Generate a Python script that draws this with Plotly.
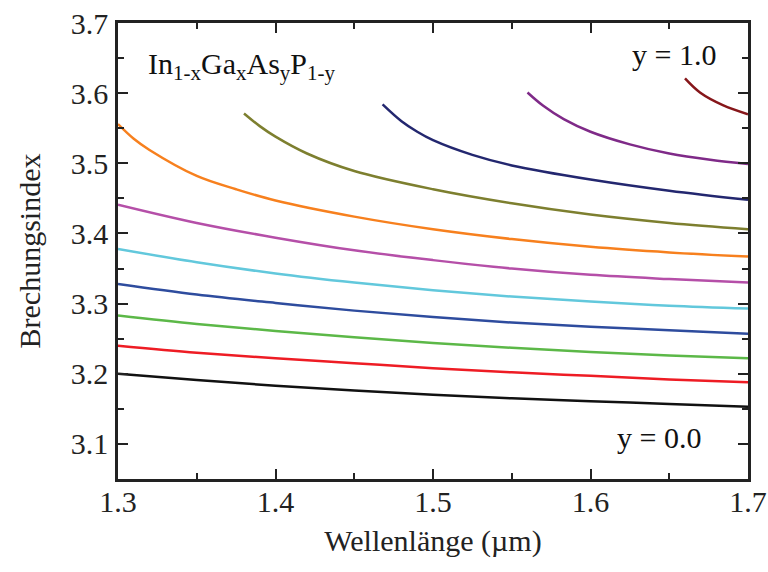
import plotly.graph_objects as go

# Wavelength grid (µm)
x_full = [1.30, 1.35, 1.40, 1.45, 1.50, 1.55, 1.60, 1.65, 1.70]

# Refractive index curves, y = 0.0 ... 0.5 (full range)
n_y00 = [3.200, 3.191, 3.183, 3.176, 3.170, 3.165, 3.161, 3.157, 3.153]
n_y01 = [3.240, 3.230, 3.222, 3.215, 3.208, 3.202, 3.197, 3.192, 3.188]
n_y02 = [3.283, 3.271, 3.261, 3.252, 3.244, 3.237, 3.231, 3.226, 3.222]
n_y03 = [3.328, 3.313, 3.301, 3.290, 3.281, 3.273, 3.267, 3.262, 3.257]
n_y04 = [3.378, 3.359, 3.343, 3.330, 3.319, 3.310, 3.303, 3.297, 3.293]
n_y05 = [3.441, 3.415, 3.394, 3.376, 3.362, 3.350, 3.341, 3.335, 3.330]

x_y06 = [1.30, 1.31, 1.32, 1.35, 1.375, 1.40, 1.45, 1.50, 1.55, 1.60, 1.65, 1.70]
n_y06 = [3.556, 3.535, 3.519, 3.482, 3.463, 3.447, 3.424, 3.406, 3.392, 3.381, 3.373, 3.367]

x_y07 = [1.38, 1.39, 1.40, 1.42, 1.45, 1.50, 1.55, 1.60, 1.65, 1.70]
n_y07 = [3.571, 3.553, 3.538, 3.514, 3.489, 3.463, 3.443, 3.427, 3.415, 3.406]

x_y08 = [1.468, 1.48, 1.49, 1.50, 1.525, 1.55, 1.60, 1.65, 1.70]
n_y08 = [3.584, 3.560, 3.545, 3.533, 3.512, 3.497, 3.477, 3.461, 3.448]

x_y09 = [1.56, 1.57, 1.583, 1.60, 1.625, 1.65, 1.676, 1.70]
n_y09 = [3.601, 3.582, 3.563, 3.545, 3.527, 3.514, 3.505, 3.499]

x_y10 = [1.66, 1.6695, 1.684, 1.70]
n_y10 = [3.621, 3.601, 3.583, 3.570]

series = [
    ("y=0.0", x_full, n_y00, "#111111"),
    ("y=0.1", x_full, n_y01, "#ee1c24"),
    ("y=0.2", x_full, n_y02, "#5cb848"),
    ("y=0.3", x_full, n_y03, "#2e4c9e"),
    ("y=0.4", x_full, n_y04, "#62c8dc"),
    ("y=0.5", x_full, n_y05, "#b54fa8"),
    ("y=0.6", x_y06, n_y06, "#f7801e"),
    ("y=0.7", x_y07, n_y07, "#7d7f2f"),
    ("y=0.8", x_y08, n_y08, "#23276f"),
    ("y=0.9", x_y09, n_y09, "#7f2a88"),
    ("y=1.0", x_y10, n_y10, "#86161a"),
]

FONT = "'Liberation Serif', 'Times New Roman', serif"

fig = go.Figure()
for name, xs, ys, col in series:
    fig.add_trace(go.Scatter(x=xs, y=ys, mode="lines", name=name,
                             line=dict(color=col, width=2.5, shape="spline", smoothing=1.0)))

axis_common = dict(
    showgrid=False, zeroline=False, showline=True, linecolor="#222222", linewidth=2.5,
    mirror="allticks", ticks="inside", ticklen=10, tickwidth=2, tickcolor="#222222",
    tickfont=dict(family=FONT, size=30, color="#222222"), automargin=False,
    minor=dict(ticks="inside", ticklen=6, tickwidth=2, tickcolor="#222222"),
)

fig.update_xaxes(range=[1.3, 1.7], dtick=0.1, tickformat=".1f", **axis_common)
fig.update_yaxes(range=[3.05, 3.7], tick0=3.1, dtick=0.1, tickformat=".1f", **axis_common)
fig.update_xaxes(minor_dtick=0.05, ticklabelstandoff=-6,
                 title=dict(text="Wellenlänge (µm)", font=dict(family=FONT, size=30, color="#222222"), standoff=14))
fig.update_yaxes(minor_dtick=0.05, minor_tick0=3.05, ticklabelstandoff=1,
                 title=dict(text="Brechungsindex", font=dict(family=FONT, size=30, color="#222222"), standoff=22))

fig.add_annotation(x=0.045, y=0.905, xref="paper", yref="paper", xanchor="left", yanchor="middle",
                   text="In<sub>1-x</sub>Ga<sub>x</sub>As<sub>y</sub>P<sub>1-y</sub>",
                   showarrow=False, font=dict(family=FONT, size=30, color="#111111"))
fig.add_annotation(x=0.952, y=0.93, xref="paper", yref="paper", xanchor="right", yanchor="middle",
                   text="y = 1.0", showarrow=False, font=dict(family=FONT, size=30, color="#111111"))
fig.add_annotation(x=0.928, y=0.092, xref="paper", yref="paper", xanchor="right", yanchor="middle",
                   text="y = 0.0", showarrow=False, font=dict(family=FONT, size=30, color="#111111"))

fig.update_layout(
    width=768, height=572, showlegend=False,
    margin=dict(l=118, r=20, t=23, b=93),
    plot_bgcolor="white", paper_bgcolor="white",
    font=dict(family=FONT),
)

fig.write_html("out.html")
